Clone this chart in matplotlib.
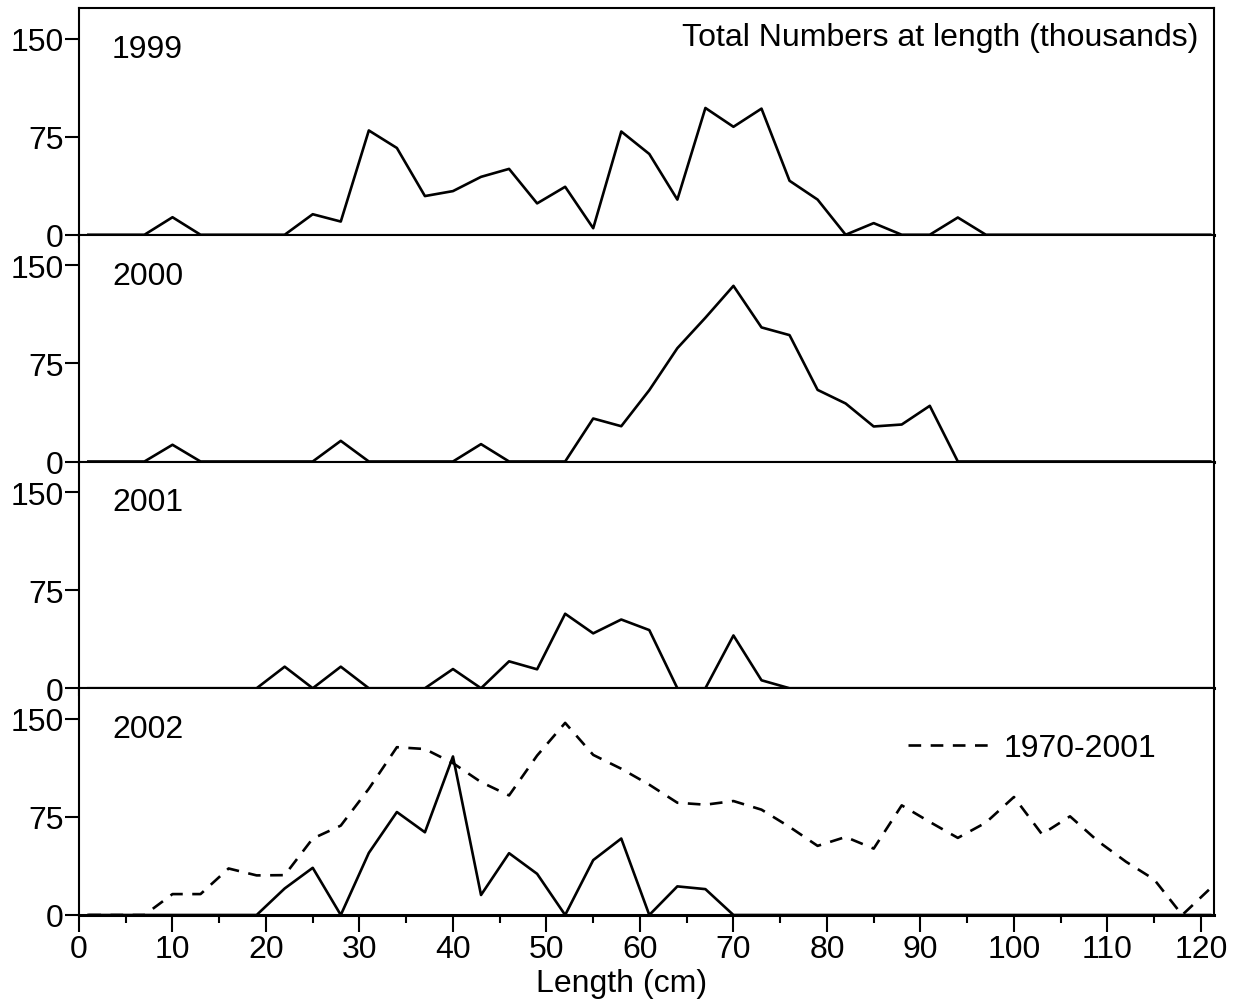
import numpy as np
import matplotlib
matplotlib.use("Agg")
import matplotlib.pyplot as plt

plt.rcParams['font.family'] = ['Liberation Sans', 'DejaVu Sans']

lengths = list(range(1, 122, 3))
years = ["1999", "2000", "2001", "2002"]

n1999 = [0, 0, 0, 13.4, 0, 0, 0, 0, 15.7, 10.1, 79.8, 66.4, 29.6, 33.4, 44.3, 50.4, 24, 36.7, 5, 79,
         61.8, 26.9, 97, 82.6, 96.5, 41.3, 26.9, 0, 8.9, 0, 0, 13.2, 0, 0, 0, 0, 0, 0, 0, 0, 0]
n2000 = [0, 0, 0, 12.8, 0, 0, 0, 0, 0, 15.8, 0, 0, 0, 0, 13.3, 0, 0, 0, 32.9, 27,
         54.6, 86.7, 110, 134.4, 102.6, 96.7, 54.8, 44.4, 26.8, 28.3, 42.6, 0, 0, 0, 0, 0, 0, 0, 0, 0, 0]
n2001 = [0, 0, 0, 0, 0, 0, 0, 16.5, 0, 16.5, 0, 0, 0, 14.7, 0, 20.6, 14.5, 57, 42, 52.6,
         44.5, 0, 0, 40.4, 6.1, 0, 0, 0, 0, 0, 0, 0, 0, 0, 0, 0, 0, 0, 0, 0, 0]
n2002 = [0, 0, 0, 0, 0, 0, 0, 20.3, 36.1, 0, 47.5, 78.8, 63.3, 121.3, 15.3, 47.3, 31.5, 0, 42, 58.5,
         0, 21.9, 19.8, 0, 0, 0, 0, 0, 0, 0, 0, 0, 0, 0, 0, 0, 0, 0, 0, 0, 0]
mean_1970_2001 = [0, 0, 0, 16, 16, 35.6, 30.3, 30.5, 58.5, 68.4, 96.6, 128.4, 127, 116.2, 101.7, 91.5,
                  122, 147, 122.5, 111.9, 99.7, 85.9, 84.4, 87.2, 80.6, 67.4, 52.9, 59.7, 50.8, 83.9,
                  71.2, 59, 70.7, 90.3, 61.8, 75.5, 56.4, 40.7, 27.2, 0, 20.3]
series = [n1999, n2000, n2001, n2002]

yticks = [0, 75, 150]
xticks_major = list(range(0, 121, 10))
xticks_minor = list(range(0, 121, 5))

W, H = 1236, 1003
fig = plt.figure(figsize=(W / 100, H / 100), dpi=100)

left = 79 / W
right = 1214 / W
top_px = 9
bot_px = 916
ph = (bot_px - top_px) / 4

fs = 23
axes = []
for i in range(4):
    y0 = bot_px - (3 - i) * ph
    ax = fig.add_axes([left, 1 - y0 / H, right - left, ph / H])
    axes.append(ax)
    ax.plot(lengths, series[i], color='black', lw=1.9, clip_on=False, zorder=3)
    ax.set_xlim(0, 121.4)
    ax.set_ylim(0, 173.5)
    ax.set_yticks(yticks)
    ax.set_yticklabels([str(v) for v in yticks], fontsize=fs)
    ax.tick_params(axis='y', direction='out', length=10, width=1.5, pad=1)
    for s in ax.spines.values():
        s.set_linewidth(1.5)
    ax.spines['bottom'].set_linewidth(2.2)
    ax.text((112 - 79) / (1214 - 79), 0.82, years[i], transform=ax.transAxes,
            fontsize=fs, ha='left', va='center')
    if i < 3:
        ax.set_xticks(xticks_minor)
        ax.set_xticklabels([])
        ax.tick_params(axis='x', direction='out', length=6, width=1.5)
    else:
        ax.set_xticks(xticks_major)
        ax.set_xticklabels([str(v) for v in xticks_major], fontsize=fs)
        ax.set_xticks(xticks_minor, minor=True)
        ax.tick_params(axis='x', which='major', direction='out', length=12, width=1.5, pad=2)
        ax.tick_params(axis='x', which='minor', direction='out', length=6, width=1.5)
        ax.plot(lengths, mean_1970_2001, color='black', lw=1.9, dashes=(4.8, 3.6),
                label='1970-2001', clip_on=False, zorder=3)
        ax.legend(loc='center left', bbox_to_anchor=((908 - 79) / (1214 - 79), 0.735),
                  frameon=False, fontsize=fs, handlelength=2.6, handletextpad=0.4,
                  borderaxespad=0, borderpad=0)
        ax.set_xlabel('Length (cm)', fontsize=fs)
        ax.xaxis.set_label_coords((622 - 79) / (1214 - 79), -0.235)

axes[0].text((1198 - 79) / (1214 - 79), 0.872, 'Total Numbers at length (thousands)',
             transform=axes[0].transAxes, fontsize=fs, ha='right', va='center')

fig.savefig('out.png', dpi=100)
